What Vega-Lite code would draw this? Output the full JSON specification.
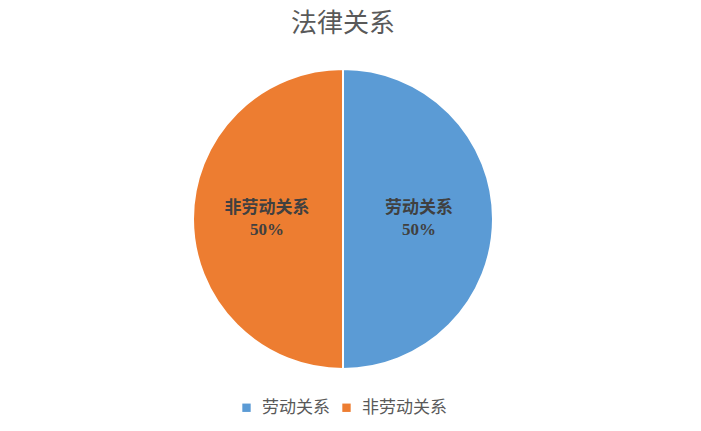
{
  "$schema": "https://vega.github.io/schema/vega-lite/v6.json",
  "width": 686,
  "height": 336,
  "padding": {"top": 11, "left": 0, "right": 15, "bottom": 0},
  "background": "white",
  "title": {
    "text": "法律关系",
    "fontSize": 26,
    "fontWeight": "normal",
    "font": "Liberation Serif, Noto Sans CJK SC",
    "color": "#595959",
    "anchor": "middle",
    "offset": 14
  },
  "data": {
    "values": [
      {"category": "劳动关系", "value": 50},
      {"category": "非劳动关系", "value": 50}
    ]
  },
  "transform": [
    {"joinaggregate": [{"op": "sum", "field": "value", "as": "total"}]},
    {"calculate": "datum.value / datum.total", "as": "share"}
  ],
  "encoding": {
    "theta": {"field": "value", "type": "quantitative", "stack": true},
    "order": {"field": "category", "sort": "ascending"}
  },
  "layer": [
    {
      "mark": {"type": "arc", "outerRadius": 150, "stroke": "white", "strokeWidth": 2},
      "encoding": {
        "color": {
          "field": "category",
          "type": "nominal",
          "scale": {"domain": ["劳动关系", "非劳动关系"], "range": ["#5B9BD5", "#ED7D31"]},
          "legend": {
            "orient": "none",
            "legendX": 238,
            "legendY": 348,
            "direction": "horizontal",
            "title": null,
            "symbolType": "square",
            "symbolSize": 70,
            "symbolStrokeWidth": 0,
            "labelFontSize": 17,
            "labelFont": "Liberation Serif, Noto Sans CJK SC",
            "labelColor": "#595959",
            "columnPadding": 8,
            "labelOffset": 7
          }
        }
      }
    },
    {
      "mark": {"type": "text", "radius": 76, "dy": -11, "fontSize": 17, "fontWeight": "bold", "font": "Liberation Serif, Noto Sans CJK SC", "color": "#404040"},
      "encoding": {"text": {"field": "category", "type": "nominal"}}
    },
    {
      "mark": {"type": "text", "radius": 76, "dy": 11, "fontSize": 17, "fontWeight": "bold", "font": "Liberation Serif, Noto Sans CJK SC", "color": "#404040"},
      "encoding": {"text": {"field": "share", "type": "quantitative", "format": ".0%"}}
    }
  ],
  "config": {"view": {"stroke": null}}
}
